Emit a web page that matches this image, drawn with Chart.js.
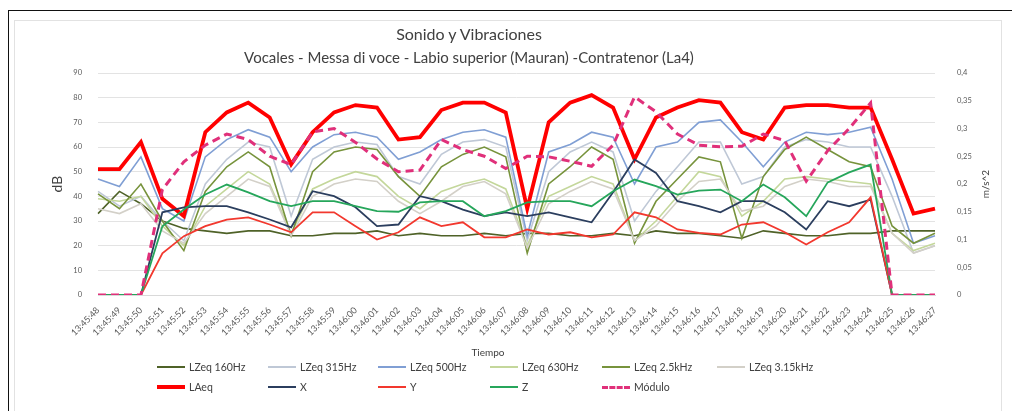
<!DOCTYPE html>
<html>
<head>
<meta charset="utf-8">
<script src="https://cdn.jsdelivr.net/npm/chart.js@4.4.1/dist/chart.umd.min.js"></script>
<style>
  html, body { margin: 0; padding: 0; background: #fff; }
  #wrap { position: relative; width: 1012px; height: 411px; overflow: hidden; font-family: Lato, "Open Sans", sans-serif; }
  #frame { position: absolute; left: 8px; top: 10px; width: 1010px; height: 410px; border-top: 1.5px solid #111; border-left: 1.5px solid #111; }
  #box { position: absolute; left: 14px; top: 20px; width: 986px; height: 400px; border: 1px solid #e2e2e2; }
  #chart { position: absolute; left: 0; top: 0; }
  .title { position: absolute; left: -37px; width: 1012px; text-align: center; color: #404040; }
  .item { position: absolute; font-size: 10.5px; color: #404040; white-space: nowrap; line-height: 12px; }
  .swatch { display: inline-block; width: 28px; vertical-align: middle; margin-right: 4px; margin-top: -2px; }
</style>
</head>
<body>
<div id="wrap">
  <div id="frame"></div>
  <div id="box"></div>
  <canvas id="chart" width="1012" height="411"></canvas>
  <div class="title" style="top:24px;font-size:16px;">Sonido y Vibraciones</div>
  <div class="title" style="top:48px;font-size:15px;">Vocales - Messa di voce - Labio superior (Mauran) -Contratenor (La4)</div>
  <div id="legend"></div>
</div>
<script>
// tiempos (eje x)
const tiempos = [
  "13:45:48", "13:45:49", "13:45:50", "13:45:51", "13:45:52", "13:45:53", "13:45:54", "13:45:55",
  "13:45:56", "13:45:57", "13:45:58", "13:45:59", "13:46:00", "13:46:01", "13:46:02", "13:46:03",
  "13:46:04", "13:46:05", "13:46:06", "13:46:07", "13:46:08", "13:46:09", "13:46:10", "13:46:11",
  "13:46:12", "13:46:13", "13:46:14", "13:46:15", "13:46:16", "13:46:17", "13:46:18", "13:46:19",
  "13:46:20", "13:46:21", "13:46:22", "13:46:23", "13:46:24", "13:46:25", "13:46:26", "13:46:27"
];

// sonido (dB)
const lzeq160 = [33, 42, 37, 30, 27, 26, 25, 26, 26, 24, 24, 25, 25, 26, 24, 25, 24, 24, 25, 24,
  25, 25, 24, 24, 25, 24, 26, 25, 25, 24, 23, 26, 25, 24, 24, 25, 25, 26, 26, 26];
const lzeq315 = [42, 36, 40, 30, 22, 45, 55, 62, 60, 32, 55, 60, 62, 61, 48, 45, 57, 62, 63, 60,
  22, 50, 58, 62, 58, 30, 42, 52, 62, 62, 45, 48, 60, 63, 62, 60, 60, 40, 17, 20];
const lzeq500 = [47, 44, 56, 35, 30, 56, 63, 67, 64, 50, 60, 65, 66, 64, 55, 58, 63, 66, 67, 64,
  24, 58, 61, 66, 64, 45, 60, 62, 70, 71, 62, 52, 62, 66, 65, 66, 68, 47, 21, 24];
const lzeq630 = [39, 38, 40, 28, 20, 36, 43, 50, 45, 25, 43, 47, 50, 48, 40, 35, 42, 45, 47, 43,
  20, 40, 44, 48, 45, 22, 30, 40, 50, 48, 32, 38, 47, 48, 47, 46, 45, 25, 18, 21];
const lzeq2500 = [41, 35, 45, 30, 18, 42, 52, 58, 52, 24, 50, 58, 60, 59, 48, 40, 52, 57, 60, 56,
  17, 45, 52, 60, 55, 21, 38, 47, 56, 54, 23, 48, 59, 64, 59, 54, 52, 28, 21, 25];
const lzeq3150 = [35, 33, 37, 26, 21, 33, 40, 47, 44, 24, 40, 45, 47, 46, 38, 33, 38, 44, 46, 41,
  19, 37, 42, 46, 43, 22, 28, 38, 46, 47, 34, 36, 44, 47, 46, 44, 44, 25, 17, 20];
const laeq = [51, 51, 62, 39, 32, 66, 74, 78, 72, 53, 66, 74, 77, 76, 63, 64, 75, 78, 78, 74,
  35, 70, 78, 81, 76, 55, 72, 76, 79, 78, 66, 63, 76, 77, 77, 76, 76, 55, 33, 35];

// vibraciones (m/s^2)
const ejeX = [0, 0, 0, 0.149, 0.158, 0.16, 0.16, 0.149, 0.136, 0.122, 0.187, 0.178, 0.158, 0.124,
  0.127, 0.178, 0.169, 0.154, 0.142, 0.149, 0.142, 0.149, 0.14, 0.131, 0.185, 0.244, 0.22, 0.169,
  0.16, 0.149, 0.169, 0.169, 0.149, 0.118, 0.169, 0.16, 0.172, 0, 0, 0];
const ejeY = [0, 0, 0, 0.075, 0.106, 0.124, 0.136, 0.14, 0.127, 0.113, 0.149, 0.149, 0.124, 0.1,
  0.113, 0.14, 0.124, 0.131, 0.104, 0.104, 0.118, 0.109, 0.113, 0.104, 0.109, 0.149, 0.14, 0.118,
  0.112, 0.109, 0.127, 0.131, 0.113, 0.091, 0.113, 0.131, 0.176, 0, 0, 0];
const ejeZ = [0, 0, 0, 0.124, 0.154, 0.181, 0.199, 0.185, 0.169, 0.16, 0.169, 0.169, 0.16, 0.151,
  0.15, 0.167, 0.169, 0.169, 0.142, 0.151, 0.167, 0.169, 0.169, 0.16, 0.187, 0.208, 0.196, 0.181,
  0.188, 0.19, 0.169, 0.199, 0.176, 0.142, 0.203, 0.221, 0.235, 0, 0, 0];
const modulo = [0, 0, 0, 0.19, 0.24, 0.27, 0.29, 0.28, 0.25, 0.235, 0.294, 0.3, 0.275, 0.245,
  0.222, 0.225, 0.28, 0.262, 0.25, 0.228, 0.25, 0.249, 0.241, 0.232, 0.27, 0.357, 0.33, 0.29,
  0.27, 0.267, 0.268, 0.29, 0.278, 0.205, 0.26, 0.3, 0.346, 0, 0, 0];

const fuente = "Lato, 'Open Sans', sans-serif";

function serie(label, data, color, width, eje, dash) {
  return {
    label: label,
    data: data,
    borderColor: color,
    backgroundColor: color,
    borderWidth: width,
    borderDash: dash || [],
    pointRadius: 0,
    tension: 0,
    yAxisID: eje
  };
}

const datasets = [
  serie("LZeq 160Hz", lzeq160, "#4F6228", 1.6, "y"),
  serie("LZeq 315Hz", lzeq315, "#BFC8D6", 1.6, "y"),
  serie("LZeq 500Hz", lzeq500, "#809FD4", 1.6, "y"),
  serie("LZeq 630Hz", lzeq630, "#C4D79B", 1.6, "y"),
  serie("LZeq 2.5kHz", lzeq2500, "#77933C", 1.6, "y"),
  serie("LZeq 3.15kHz", lzeq3150, "#D3D0C8", 1.6, "y"),
  serie("LAeq", laeq, "#FF0000", 3.8, "y"),
  serie("X", ejeX, "#2B3E5E", 1.8, "y1"),
  serie("Y", ejeY, "#F2382E", 1.8, "y1"),
  serie("Z", ejeZ, "#26A65B", 1.8, "y1"),
  serie("Módulo", modulo, "#E0307A", 3, "y1", [8, 5])
];
// en Excel la última serie queda encima
datasets.forEach((d, i) => { d.order = datasets.length - i; });

const titulosEjes = {
  id: "titulosEjes",
  afterDraw(chart) {
    const ctx = chart.ctx;
    const area = chart.chartArea;
    const cy = (area.top + area.bottom) / 2;
    ctx.save();
    ctx.fillStyle = "#404040";
    ctx.textAlign = "center";
    ctx.textBaseline = "middle";
    ctx.font = "14px " + fuente;
    ctx.translate(57, cy);
    ctx.rotate(-Math.PI / 2);
    ctx.fillText("dB", 0, 0);
    ctx.restore();

    ctx.save();
    ctx.fillStyle = "#404040";
    ctx.textAlign = "center";
    ctx.textBaseline = "middle";
    ctx.font = "10px " + fuente;
    ctx.translate(986, cy);
    ctx.rotate(-Math.PI / 2);
    ctx.fillText("m/s^2", 0, 0);
    ctx.restore();

    ctx.save();
    ctx.fillStyle = "#404040";
    ctx.textAlign = "center";
    ctx.textBaseline = "middle";
    ctx.font = "10px " + fuente;
    ctx.fillText("Tiempo", 488, 353);
    ctx.restore();
  }
};

const chart = new Chart(document.getElementById("chart"), {
  type: "line",
  data: { labels: tiempos, datasets: datasets },
  options: {
    responsive: false,
    animation: false,
    layout: { padding: { left: 14, right: 10, top: 73, bottom: 51 } },
    plugins: {
      legend: { display: false },
      title: { display: false },
      tooltip: { enabled: false }
    },
    scales: {
      x: {
        offset: false,
        grid: { display: false },
        border: { display: true, color: "#D9D9D9" },
        ticks: {
          autoSkip: false,
          maxRotation: 45,
          minRotation: 45,
          padding: 2,
          color: "#595959",
          font: { family: fuente, size: 9 }
        },
        afterFit(scale) { scale.height = 65; }
      },
      y: {
        position: "left",
        min: 0,
        max: 90,
        grid: { color: "#E3E3E3", drawTicks: false },
        border: { display: false },
        ticks: {
          stepSize: 10,
          padding: 16,
          color: "#595959",
          font: { family: fuente, size: 7.5 }
        },
        afterFit(scale) { scale.width = 84; }
      },
      y1: {
        position: "right",
        min: 0,
        max: 0.4,
        grid: { display: false, drawTicks: false },
        border: { display: false },
        ticks: {
          stepSize: 0.05,
          padding: 22,
          color: "#595959",
          font: { family: fuente, size: 7.5 },
          callback: (v) => String(Math.round(v * 100) / 100).replace(".", ",")
        },
        afterFit(scale) { scale.width = 67; }
      }
    }
  },
  plugins: [titulosEjes]
});

// leyenda en dos filas, columnas fijas como en Excel
const columnas = [157, 268, 378, 490, 602, 717];
const filas = [361, 381];
const leyenda = document.getElementById("legend");
datasets.forEach((d, i) => {
  const fila = i < 6 ? 0 : 1;
  const col = i < 6 ? i : i - 6;
  const item = document.createElement("div");
  item.className = "item";
  item.style.left = columnas[col] + "px";
  item.style.top = filas[fila] + "px";
  const sw = document.createElement("span");
  sw.className = "swatch";
  if (d.borderDash.length) {
    sw.style.borderTop = Math.round(d.borderWidth) + "px dashed " + d.borderColor;
  } else {
    sw.style.borderTop = Math.max(2, Math.round(d.borderWidth)) + "px solid " + d.borderColor;
  }
  item.appendChild(sw);
  item.appendChild(document.createTextNode(d.label));
  leyenda.appendChild(item);
});
</script>
</body>
</html>
